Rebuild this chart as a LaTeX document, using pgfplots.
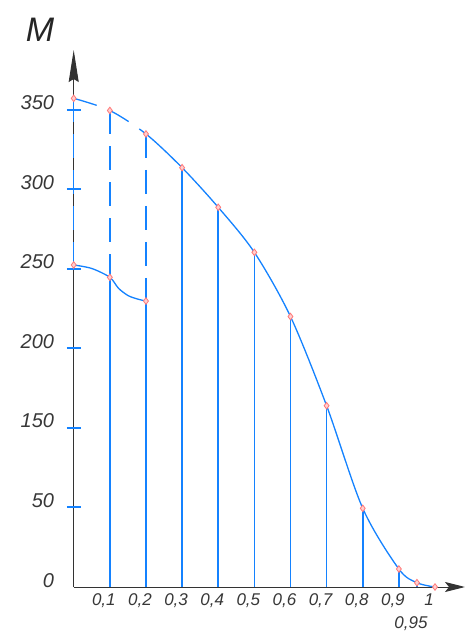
\documentclass[border=0pt]{standalone}
\usepackage{pgfplots}
\pgfplotsset{compat=1.18}
\usepackage{fontspec}
\setmainfont{Liberation Sans}
\usetikzlibrary{arrows.meta}
\definecolor{lineblue}{RGB}{20,130,255}
\definecolor{markred}{RGB}{255,120,120}
\definecolor{labelgray}{RGB}{55,55,55}

\begin{document}
\begin{tikzpicture}
\useasboundingbox (-73.7pt,-50pt) rectangle (392.3pt,587pt);
\begin{axis}[
  anchor=origin, at={(0pt,0pt)},
  x=361.3pt, y=79.55pt,
  xmin=0, xmax=1.083, ymin=0, ymax=6.75,
  axis lines=left,
  clip=false,
  axis line style={black!80, line width=1pt},
  x axis line style={-{Stealth[length=20pt,width=10pt,inset=4pt]}},
  y axis line style={-{Stealth[length=32pt,width=10pt,inset=3pt]}},
  xtick={0.1,0.2,0.3,0.4,0.5,0.6,0.7,0.8,0.9,0.95,1},
  xticklabels={{0,1},{0,2},{0,3},{0,4},{0,5},{0,6},{0,7},{0,8},{0,9},\raisebox{-23pt}{0,95},1},
  xtick style={draw=none},
  ytick={0,1,2,3,4,5,6},
  yticklabels={0,50,150,200,250,300,350},
  ytick style={draw=none},
  tick align=center,
  xticklabel style={font=\fontsize{17}{20}\selectfont\itshape, text=labelgray, anchor=base, xshift=-6pt, yshift=-16pt},
  yticklabel style={font=\fontsize{20}{24}\selectfont\itshape, text=labelgray, anchor=base east, xshift=-14pt},
]
% solid verticals from each ordinate down to the axis
\addplot[lineblue, line width=1.6pt, ycomb, no marks] coordinates {
  (0.1,3.893) (0.2,3.595) (0.3,5.271) (0.4,4.773) (0.5,4.207)
  (0.6,3.400) (0.7,2.279) (0.8,0.989) (0.9,0.226) (0.95,0.054)};
% dashed verticals between the two branches
\addplot[lineblue, line width=1.6pt, dash pattern=on 24pt off 12pt] coordinates {(0,6.143) (0,4.048)};
\addplot[lineblue, line width=1.6pt, dash pattern=on 24pt off 12pt] coordinates {(0.1,5.990) (0.1,3.893)};
\addplot[lineblue, line width=1.6pt, dash pattern=on 24pt off 12pt] coordinates {(0.2,5.695) (0.2,3.595)};
% upper branch
\addplot[lineblue, line width=1.3pt, smooth, dash pattern=on 24pt off 14pt on 22pt off 13pt on 3000pt] coordinates {
  (0,6.143) (0.1,5.990) (0.2,5.695) (0.3,5.271) (0.4,4.773) (0.5,4.207)
  (0.6,3.400) (0.7,2.279) (0.8,0.989) (0.9,0.226) (0.95,0.054) (1,0)};
% lower branch
\addplot[lineblue, line width=1.3pt, smooth] coordinates {
  (0,4.048) (0.05,4.004) (0.1,3.893) (0.124,3.755) (0.151,3.662) (0.179,3.617) (0.2,3.595)};
% points
\addplot[only marks, mark=diamond*, mark size=3.3pt, draw=markred, fill=markred!35, mark options={line width=0.8pt}] coordinates {
  (0,6.143) (0.1,5.990) (0.2,5.695) (0.3,5.271) (0.4,4.773) (0.5,4.207)
  (0.6,3.400) (0.7,2.279) (0.8,0.989) (0.9,0.226) (0.95,0.054) (1,0)
  (0,4.048) (0.1,3.893) (0.2,3.595)};
% blue tick strokes across the M axis
\addplot[draw=lineblue, line width=2pt, no marks, forget plot] coordinates {
  (-0.019,1) (0.019,1)

  (-0.019,2) (0.019,2)

  (-0.019,3) (0.019,3)

  (-0.019,4) (0.019,4)

  (-0.019,5) (0.019,5)

  (-0.019,6) (0.019,6)};
\end{axis}
\node[font=\fontsize{34}{36}\selectfont\itshape, text=black!85] at (-33.7pt,557pt) {M};
\end{tikzpicture}
\end{document}
